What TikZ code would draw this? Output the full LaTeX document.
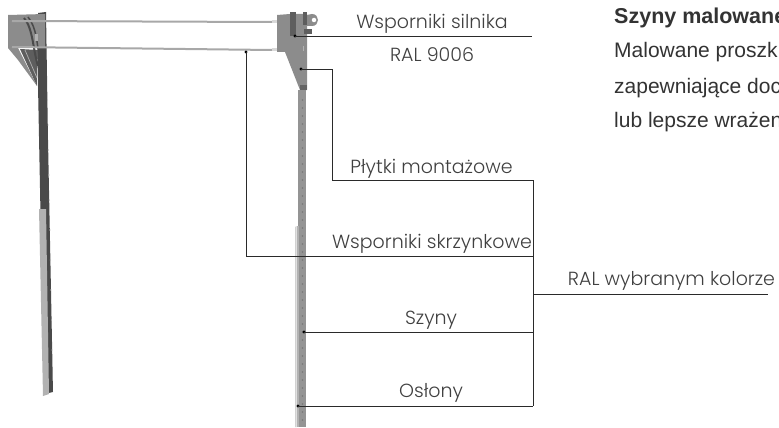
\documentclass[tikz,border=0pt]{standalone}
\usepackage{fontspec}
\setmainfont{Poppins}[UprightFont=* Light]
\newfontfamily\rfont{Liberation Sans}
\definecolor{lead}{HTML}{2A2A2A}
\definecolor{lab}{HTML}{404040}
\definecolor{steel}{HTML}{8C8C8C}
\definecolor{steelM}{HTML}{949494}
\definecolor{steelL}{HTML}{B2B2B2}
\definecolor{steelD}{HTML}{4A4A4A}
\definecolor{bar}{HTML}{A8A8A8}
\tikzset{x=1pt,y=-1pt,
 leader/.style={draw=lead,line width=.9pt},
 tag/.style={fill=black,circle,inner sep=0,minimum size=3.2pt},
 labl/.style={font=\fontsize{19}{21}\selectfont,text=lab,inner sep=0,anchor=base},
 rtxt/.style={font=\rfont\fontsize{21}{24}\selectfont,text=black!80,inner sep=0,anchor=base west}}
\begin{document}
\begin{tikzpicture}
\useasboundingbox (0,0) rectangle (779,428);
\clip (0,0) rectangle (779,428);
% left rail
\fill[steelD] (38,85) -- (38,13) -- (46,12) -- (48,140) -- (53,392) -- (44,394) -- cycle;
\fill[steel] (8,15) -- (45,14) -- (45,48) -- (18,48) -- (37,86) -- (18,60) -- (8,48) -- cycle;
\fill[steelD!70!steel] (20,49) -- (37,86) -- (38,50) -- cycle;
\draw[steelL,line width=.7pt] (25,50) -- (37,78);
\draw[steelD,line width=2pt] (24,18) .. controls (33,28) and (33,50) .. (38,66);
\draw[steelD,line width=1.5pt] (28,17) .. controls (37,28) and (37,45) .. (39,55);
\fill[steelL] (35,34) rectangle (38,41);
\fill[steelL] (39,209) -- (46,209) -- (49,394) -- (43,396) -- cycle;
\foreach \yy in {100,125,150,175,200,230,260,290,320,350,380}
  \fill[steelL] ({47.5+(\yy-100)*0.018},\yy) circle (.7);
% right rail
\fill[steel] (277,15) -- (290,14) -- (307,14) -- (307,90) -- (300,90) -- (285,52) -- (277,52) -- cycle;
\fill[steelM] (298,90) rectangle (306,427);
\fill[steelL!60!white] (295,227) -- (296.5,226) -- (296.5,427) -- (295,427) -- cycle;
\fill[steelL] (296.5,226) rectangle (299,427);
\fill[steel] (302,16) -- (312,14) .. controls (320,14) and (320,26) .. (312,26) -- (302,26) -- cycle;
\node[circle,fill=white,inner sep=0,minimum size=4.5pt] (hole) at (314,20) {};
\fill[steelD!70!steel] (290,12) rectangle (296,36);
\fill[steelD!70!steel] (303,12) rectangle (307,25);
\fill[steelD!70!steel] (304,29) rectangle (312,34);
\fill[steelL] (303,46) rectangle (304,51);
\fill[steelD!60!steel] (300,85) rectangle (307,90);
\foreach \yy in {100,108,...,420}
  \fill[steel!85!black] (302.5,\yy) circle (.8);
% bars
\draw[bar,line width=2pt] (12,21) -- (272,22);
\draw[bar,line width=2pt] (12,47) -- (272,50);
\fill[steelL!50!white] (272,20.5) rectangle (277,23.5);
\fill[steelL!50!white] (272,48.5) rectangle (277,51.5);
% leaders
\node[tag] (a) at (295,36) {};
\node[tag] (b) at (301,69) {};
\node[tag] (c) at (246,52) {};
\node[tag] (d) at (304,332) {};
\node[tag] (e) at (298,406) {};
\coordinate (pk) at (332,69);
\coordinate (pc) at (332,180);
\coordinate (bt) at (533,180);
\coordinate (cb) at (533,256);
\coordinate (rb) at (533,294);
\coordinate (db) at (533,332);
\coordinate (eb) at (533,406);
\coordinate (ae) at (532,36);
\coordinate (re) at (768,294);
\draw[leader] (a.center) -- (ae);
\draw[leader] (b.center) -- (pk) -- (pc) -- (bt);
\draw[leader] (c.center) |- (cb);
\draw[leader] (d.center) -- (db);
\draw[leader] (e.center) -- (eb);
\draw[leader] (bt) -- (eb);
\draw[leader] (rb) -- (re);
% labels
\node[labl] (l1) at (432,29) {Wsporniki silnika};
\node[labl] (l2) at (432,62) {RAL 9006};
\node[labl] (l3) at (431.5,173) {Płytki montażowe};
\node[labl] (l4) at (432,248) {Wsporniki skrzynkowe};
\node[labl] (l5) at (671.5,285) {RAL wybranym kolorze};
\node[labl] (l6) at (431,324) {Szyny};
\node[labl] (l7) at (431,397) {Osłony};
% right text
\node[rtxt,font=\rfont\bfseries\fontsize{21.5}{24}\selectfont] (t1) at (614,24) {Szyny malowane};
\node[rtxt] (t2) at (614,58) {Malowane proszk};
\node[rtxt] (t3) at (614,93) {zapewniające doc};
\node[rtxt] (t4) at (614,127) {lub lepsze wrażen};
\end{tikzpicture}
\end{document}
